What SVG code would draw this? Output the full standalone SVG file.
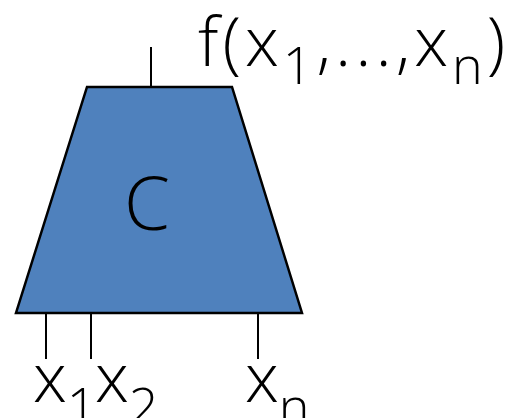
<svg xmlns="http://www.w3.org/2000/svg" width="508" height="418" viewBox="0 0 508 418">
<style>
.t{font-family:"Open Sans","Noto Sans",sans-serif;font-weight:300;fill:#000}
.w{stroke:#000;stroke-width:2;fill:none}
</style>
<rect width="508" height="418" fill="#fff"/>
<g id="connectors">
<line class="w" x1="151" y1="47" x2="151" y2="92"/>
<line class="w" x1="46" y1="313" x2="46" y2="359"/>
<line class="w" x1="91" y1="313" x2="91" y2="359"/>
<line class="w" x1="258" y1="313" x2="258" y2="359"/>
</g>
<g id="circuit">
<polygon points="87,87 232,87 302,313 16,313" fill="#4f81bd" stroke="#000" stroke-width="2.5" stroke-linejoin="miter"/>
<text class="t" x="147" y="230" font-size="74" text-anchor="middle">C</text>
</g>
<g id="output">
<text class="t" x="198" y="66" font-size="68" letter-spacing="4">f(x<tspan font-size="52" dy="18">1</tspan><tspan dy="-18">,...,x</tspan><tspan font-size="52" dy="18">n</tspan><tspan dy="-18">)</tspan></text>
</g>
<g id="inputs">
<text class="t" x="33" y="402" font-size="68">x<tspan font-size="52" dy="23">1</tspan></text>
<text class="t" x="95" y="402" font-size="68">x<tspan font-size="52" dy="23">2</tspan></text>
<text class="t" x="245" y="402" font-size="68">x<tspan font-size="52" dy="23">n</tspan></text>
</g>
</svg>
